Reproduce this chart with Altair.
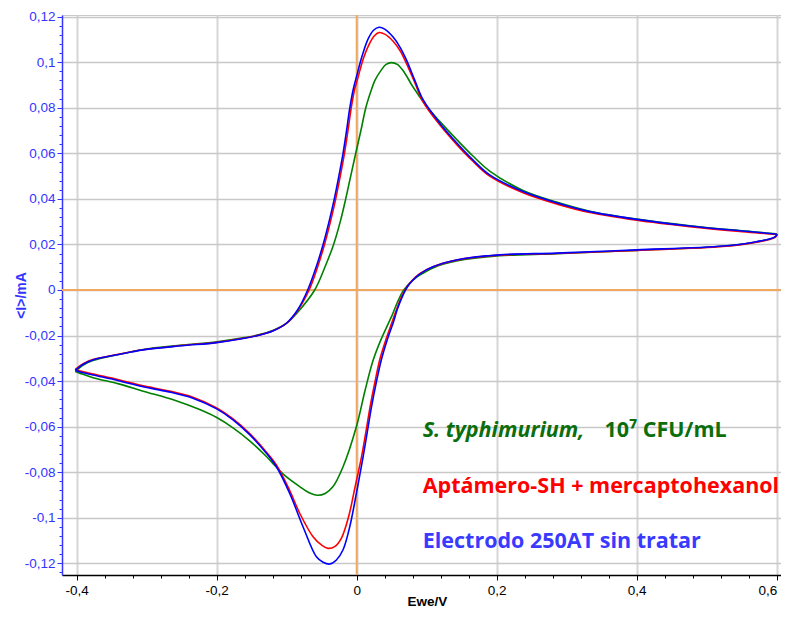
import altair as alt
import pandas as pd

# ---------------- data (E in V, I in mA) ----------------
# Electrodo 250AT sin tratar (blue)
blue_E = [-0.402, -0.39, -0.377, -0.34, -0.305, -0.25, -0.2, -0.16, -0.1386, -0.12, -0.1005, -0.085,
          -0.070, -0.058, -0.048, -0.0395, -0.032, -0.0255, -0.0195, -0.0145, -0.0098, -0.005, 0.0, 0.008,
          0.016, 0.024, 0.032, 0.040, 0.052, 0.062, 0.071, 0.083, 0.095, 0.1186, 0.143, 0.166, 0.19,
          0.2376, 0.2853, 0.333, 0.4, 0.476, 0.547, 0.59, 0.600, 0.597, 0.571, 0.523, 0.4, 0.285, 0.204,
          0.1424, 0.109, 0.09, 0.08, 0.072, 0.065, 0.058, 0.052, 0.044, 0.0353, 0.028, 0.021, 0.015,
          0.009, 0.0, -0.01, -0.0195, -0.029, -0.0386, -0.048, -0.0576, -0.0767, -0.0957, -0.1147,
          -0.129, -0.1529, -0.1767, -0.2, -0.234, -0.27, -0.305, -0.34, -0.3767, -0.395, -0.402]
blue_I = [-0.0352, -0.0325, -0.0307, -0.0283, -0.0263, -0.0245, -0.0231, -0.0212, -0.0198, -0.0180,
          -0.0146, -0.0090, 0.0, 0.010, 0.020, 0.030, 0.040, 0.050, 0.060, 0.070, 0.080, 0.088, 0.094,
          0.103, 0.110, 0.114, 0.1153, 0.1145, 0.111, 0.1065, 0.101, 0.092, 0.0834, 0.0732, 0.0645,
          0.0571, 0.0505, 0.0432, 0.0383, 0.0344, 0.0310, 0.0281, 0.0260, 0.0248, 0.0244, 0.0232,
          0.0212, 0.0193, 0.0176, 0.0162, 0.0154, 0.0132, 0.0102, 0.0070, 0.0043, 0.0012, -0.0030,
          -0.0085, -0.0145, -0.0215, -0.0305, -0.0405, -0.0515, -0.0625, -0.0735, -0.0885, -0.1040,
          -0.1140, -0.1185, -0.1203, -0.1195, -0.1171, -0.1039, -0.0893, -0.0776, -0.0717, -0.0635,
          -0.0570, -0.0522, -0.0475, -0.0446, -0.0425, -0.0398, -0.0373, -0.0360, -0.0352]

# Aptámero-SH + mercaptohexanol (red)
red_E = [-0.402, -0.39, -0.377, -0.34, -0.305, -0.25, -0.2, -0.16, -0.1386, -0.12, -0.1005, -0.085,
         -0.068, -0.056, -0.046, -0.0375, -0.030, -0.0235, -0.0175, -0.0125, -0.0078, -0.003, 0.002, 0.010,
         0.018, 0.025, 0.032, 0.040, 0.052, 0.062, 0.071, 0.083, 0.095, 0.1186, 0.143, 0.166, 0.19,
         0.2376, 0.2853, 0.333, 0.4, 0.476, 0.547, 0.59, 0.600, 0.597, 0.571, 0.523, 0.4, 0.285, 0.204,
         0.1424, 0.109, 0.09, 0.08, 0.072, 0.064, 0.057, 0.050, 0.042, 0.033, 0.026, 0.019, 0.013,
         0.007, -0.002, -0.012, -0.022, -0.031, -0.041, -0.050, -0.0624, -0.0814, -0.0957, -0.1147,
         -0.129, -0.1529, -0.1767, -0.2, -0.234, -0.27, -0.305, -0.34, -0.3767, -0.395, -0.402]
red_I = [-0.0348, -0.0322, -0.0305, -0.0282, -0.0262, -0.0244, -0.0230, -0.0211, -0.0197, -0.0180,
         -0.0147, -0.0093, 0.0, 0.010, 0.020, 0.030, 0.040, 0.050, 0.060, 0.070, 0.080, 0.088, 0.0935,
         0.102, 0.108, 0.1115, 0.1130, 0.1123, 0.1092, 0.1050, 0.0995, 0.0910, 0.0825, 0.0725, 0.0638,
         0.0565, 0.0500, 0.0427, 0.0378, 0.0340, 0.0306, 0.0278, 0.0257, 0.0246, 0.0242, 0.0230,
         0.0210, 0.0191, 0.0174, 0.0160, 0.0153, 0.0131, 0.0102, 0.0072, 0.0045, 0.0014, -0.0030,
         -0.0085, -0.0145, -0.0215, -0.0305, -0.0405, -0.0515, -0.0625, -0.0730, -0.0860, -0.1000,
         -0.1090, -0.1125, -0.1134, -0.1120, -0.1083, -0.0980, -0.0880, -0.0768, -0.0712, -0.0630,
         -0.0566, -0.0518, -0.0471, -0.0442, -0.0421, -0.0394, -0.0369, -0.0356, -0.0348]

# S. typhimurium 10^7 CFU/mL (green)
green_E = [-0.402, -0.39, -0.377, -0.34, -0.305, -0.25, -0.2, -0.16, -0.1386, -0.12, -0.1005, -0.08,
           -0.06, -0.0455, -0.033, -0.0235, -0.0157, -0.0086, -0.0014, 0.006, 0.013, 0.020, 0.026, 0.035,
           0.042, 0.0496, 0.058, 0.068, 0.080, 0.099, 0.1186, 0.143, 0.166, 0.19, 0.2376, 0.2853, 0.333,
           0.4, 0.476, 0.547, 0.59, 0.600, 0.597, 0.571, 0.523, 0.4, 0.285, 0.204, 0.1424, 0.109, 0.09,
           0.08, 0.072, 0.066, 0.058, 0.050, 0.0424, 0.033, 0.0233, 0.012, 0.0, -0.0195, -0.0338, -0.045,
           -0.0567, -0.068, -0.0814, -0.105, -0.117, -0.129, -0.1529, -0.1767, -0.2, -0.2243, -0.26,
           -0.305, -0.34, -0.3767, -0.395, -0.402]
green_I = [-0.0358, -0.0328, -0.0310, -0.0283, -0.0261, -0.0242, -0.0227, -0.0209, -0.0196, -0.0178,
           -0.0147, -0.0082, 0.0, 0.010, 0.020, 0.030, 0.040, 0.050, 0.060, 0.070, 0.080, 0.087, 0.092,
           0.0965, 0.0990, 0.0998, 0.0990, 0.0955, 0.0893, 0.0810, 0.0740, 0.0660, 0.0588, 0.0522,
           0.0437, 0.0386, 0.0346, 0.0311, 0.0282, 0.0261, 0.0249, 0.0245, 0.0232, 0.0211, 0.0192,
           0.0174, 0.0159, 0.0150, 0.0127, 0.0097, 0.0065, 0.0042, 0.0018, -0.0005, -0.0055, -0.0115,
           -0.0165, -0.0230, -0.0310, -0.0440, -0.0595, -0.0776, -0.0863, -0.0893, -0.0901, -0.0890,
           -0.0863, -0.0808, -0.0770, -0.0731, -0.0662, -0.0605, -0.0560, -0.0525, -0.0484, -0.0444,
           -0.0412, -0.0385, -0.0366, -0.0358]

x_ticks = [round(-0.4 + 0.04 * k, 2) for k in range(26)]
y_ticks = [round(-0.124 + 0.004 * k, 3) for k in range(62)]

label_green_it = "S. typhimurium,"
label_green_rest = "10\u2077 CFU/mL"
label_red = "Aptámero-SH + mercaptohexanol"
label_blue = "Electrodo 250AT sin tratar"

# ---------------- styling ----------------
BLUE_AX = "#3434ff"
ORANGE = "#f0a860"
C_GREEN = "#008000"
C_RED = "#ff0000"
C_BLUE = "#0000ff"
T_GREEN = "#0b6e0b"
T_RED = "#ff0000"
T_BLUE = "#3a3aff"
LEG_FONT = "Open Sans"
LEG_SIZE = 21.5

XMAJ = "abs(datum.value*5 - round(datum.value*5)) < 0.001"
YMAJ = "abs(datum.value*50 - round(datum.value*50)) < 0.001"

x_scale = alt.Scale(domain=[-0.421, 0.6061], nice=False, zero=False)
y_scale = alt.Scale(domain=[-0.1251, 0.1207], nice=False, zero=False)

x_axis = alt.Axis(
    values=x_ticks, tickCount=500, title="Ewe/V",
    labelExpr=f"({XMAJ}) ? replace(toString(datum.value), '.', ',') : ''",
    grid=True, gridColor="#d6d6d6", gridWidth=2,
    gridOpacity={"condition": {"test": XMAJ, "value": 1}, "value": 0},
    tickColor="black", tickWidth=1,
    tickSize={"condition": {"test": XMAJ, "value": 5}, "value": 3},
    domainColor="black", domainWidth=1.5,
    labelColor="black", labelFont="Liberation Sans", labelFontSize=13.5,
    labelPadding=3, labelOverlap=False, labelFlush=6,
    titleFont="Liberation Sans", titleFontSize=13.5, titleFontWeight="bold", titleColor="black",
    titleX=365, titleY=30, titleBaseline="alphabetic", titleAlign="center",
)
y_axis = alt.Axis(
    values=y_ticks, tickCount=500, title="<I>/mA",
    labelExpr=f"({YMAJ}) ? replace(toString(datum.value), '.', ',') : ''",
    grid=True, gridColor="#c8c8c8", gridWidth=1.5,
    gridOpacity={"condition": {"test": YMAJ, "value": 1}, "value": 0},
    tickColor=BLUE_AX, tickWidth=1,
    tickSize={"condition": {"test": YMAJ, "value": 5}, "value": 3},
    domainColor=BLUE_AX, domainWidth=1.5,
    labelColor=BLUE_AX, labelFont="Liberation Sans", labelFontSize=13.5,
    labelPadding=2, labelOverlap=False, labelFlush=False,
    titleFont="Liberation Sans", titleFontSize=14, titleFontWeight="bold", titleColor=BLUE_AX,
    titleX=-41, titleY=280, titleAngle=270, titleBaseline="middle", titleAlign="center",
)


def curve(E, I, color, with_axes=False):
    df = pd.DataFrame({"E": E, "I": I, "k": list(range(len(E)))})
    xk = dict(scale=x_scale)
    yk = dict(scale=y_scale)
    if with_axes:
        xk["axis"] = x_axis
        yk["axis"] = y_axis
    return alt.Chart(df).mark_line(
        interpolate="catmull-rom", strokeWidth=1.6, color=color,
        opacity=0 if with_axes else 1,
    ).encode(
        x=alt.X("E:Q", **xk), y=alt.Y("I:Q", **yk), order="k:Q"
    )


vline = alt.Chart(pd.DataFrame({"E": [0.0]})).mark_rule(color=ORANGE, strokeWidth=2).encode(
    x=alt.X("E:Q", scale=x_scale))
hline = alt.Chart(pd.DataFrame({"I": [0.0]})).mark_rule(color=ORANGE, strokeWidth=2).encode(
    y=alt.Y("I:Q", scale=y_scale))


def label(txt, x, y, color, italic=False):
    return alt.Chart(pd.DataFrame({"t": [txt]})).mark_text(
        font=LEG_FONT, fontSize=LEG_SIZE, fontWeight="bold",
        fontStyle="italic" if italic else "normal",
        color=color, align="left", baseline="alphabetic"
    ).encode(
        x=alt.X(datum=x, type="quantitative", scale=x_scale),
        y=alt.Y(datum=y, type="quantitative", scale=y_scale),
        text="t:N",
    )


chart = alt.layer(
    curve(green_E, green_I, C_GREEN, with_axes=True),
    vline, hline,
    curve(green_E, green_I, C_GREEN),
    curve(red_E, red_I, C_RED),
    curve(blue_E, blue_I, C_BLUE),
    label(label_green_it, 0.0943, -0.0645, T_GREEN, italic=True),
    label(label_green_rest, 0.354, -0.0645, T_GREEN),
    label(label_red, 0.0943, -0.0891, T_RED),
    label(label_blue, 0.0943, -0.1133, T_BLUE),
).properties(
    width=719, height=560,
    padding={"left": 54, "top": 7, "right": 0, "bottom": 34},
    autosize=alt.AutoSizeParams(type="none"),
).configure_view(stroke="#c8c8c8", strokeWidth=1)

chart.save("out.html", embed_options={"renderer": "svg", "actions": False})
